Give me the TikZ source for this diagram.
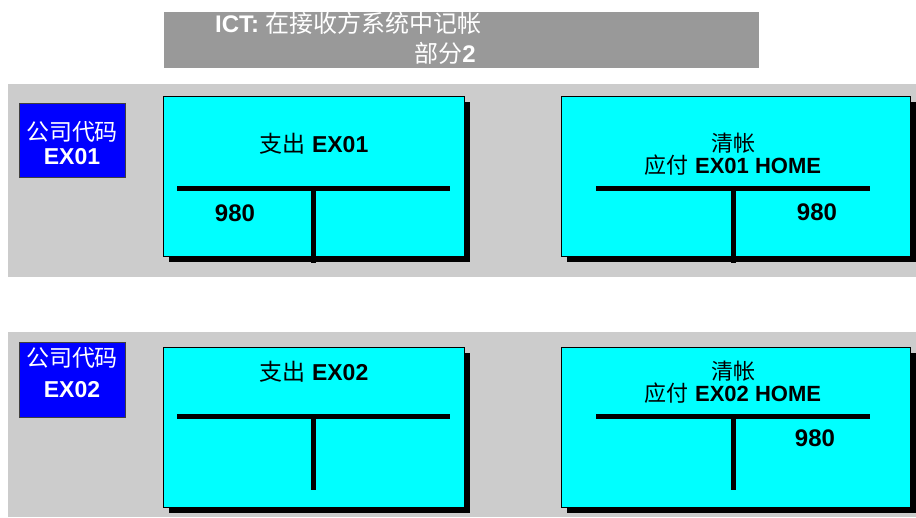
\documentclass[tikz,border=0pt]{standalone}
\usepackage{fontspec}
\setmainfont{Liberation Sans}
\newfontfamily\cjk{Noto Sans CJK SC}
\usepackage{tikz}
\usetikzlibrary{positioning,shadows}
\definecolor{bandgray}{HTML}{CCCCCC}
\definecolor{titlegray}{HTML}{999999}
\definecolor{codeblue}{HTML}{0000FF}
\definecolor{acccyan}{HTML}{00FFFF}
\tikzstyle{band}=[fill=bandgray,draw=none,inner sep=0pt,minimum width=908pt]
\tikzstyle{codebox}=[fill=codeblue,draw=black!75,line width=0.8pt,inner sep=0pt,minimum width=106pt,minimum height=74pt]
\tikzstyle{codetext}=[text=white,align=center,inner sep=0pt,font=\fontsize{23}{24.5}\selectfont]
\tikzstyle{account}=[fill=acccyan,draw=black,line width=0.8pt,inner sep=0pt,minimum height=160pt,drop shadow={shadow xshift=6pt,shadow yshift=-6pt,fill=black,opacity=1}]
\tikzstyle{acctitle}=[align=center,inner sep=0pt,font=\fontsize{23}{17}\selectfont]
\tikzstyle{amount}=[inner sep=0pt,font=\fontsize{24}{24}\selectfont\bfseries]
\tikzstyle{tline}=[line width=5pt]

\begin{document}
\begin{tikzpicture}[x=1pt,y=-1pt]
\useasboundingbox (0,0) rectangle (916,517);
% header
\node [fill=titlegray,inner sep=0pt,minimum width=595pt,minimum height=56pt] (head) at (461.5,40) {};
\node [anchor=west,text=white,inner sep=0pt,font=\fontsize{24}{24}\selectfont] (headA) at (215,23) {\textbf{ICT:} {\cjk 在接收方系统中记帐}};
\node [text=white,inner sep=0pt,font=\fontsize{24}{24}\selectfont] (headB) at (445,53) {{\cjk 部分}\textbf{2}};

% company code EX01
\node [band,minimum height=193pt] (row1) at (462,180.5) {};
\node [codebox] (co1) at (72,140) {};
\node [codetext] (co1t) at (72,143) {{\cjk 公司代码}\\\textbf{EX01}};
\node [account,minimum width=301pt] (exp1) at (313.5,176) {};
\node [account,minimum width=349pt] (pay1) at (735.5,176) {};
\draw [tline] (177,188) -- (450,188);
\draw [tline] (313,188) -- (313,263);
\draw [tline] (596,188) -- (870,188);
\draw [tline] (733,188) -- (733,263);
\node [acctitle] (exp1t) at (314,144) {{\cjk 支出} \textbf{EX01}};
\node [amount] (exp1a) at (235,213) {980};
\node [acctitle,font=\fontsize{22}{16.5}\selectfont] (pay1t) at (733,154) {{\cjk 清帐}\\{\cjk 应付} \textbf{EX01 HOME}};
\node [amount] (pay1a) at (817,212) {980};

% company code EX02
\node [band,minimum height=185pt] (row2) at (462,424.5) {};
\node [codebox,minimum height=75pt] (co2) at (72,379.5) {};
\node [codetext,font=\fontsize{23}{31}\selectfont] (co2t) at (72,373) {{\cjk 公司代码}\\\textbf{EX02}};
\node [account,minimum width=301pt] (exp2) at (313.5,427) {};
\node [account,minimum width=349pt] (pay2) at (735.5,427) {};
\draw [tline] (177,416) -- (450,416);
\draw [tline] (313,416) -- (313,490);
\draw [tline] (596,416) -- (870,416);
\draw [tline] (733,416) -- (733,490);
\node [acctitle] (exp2t) at (314,372) {{\cjk 支出} \textbf{EX02}};
\node [acctitle,font=\fontsize{22}{16.5}\selectfont] (pay2t) at (733,382) {{\cjk 清帐}\\{\cjk 应付} \textbf{EX02 HOME}};
\node [amount] (pay2a) at (815,438) {980};
\end{tikzpicture}
\end{document}
